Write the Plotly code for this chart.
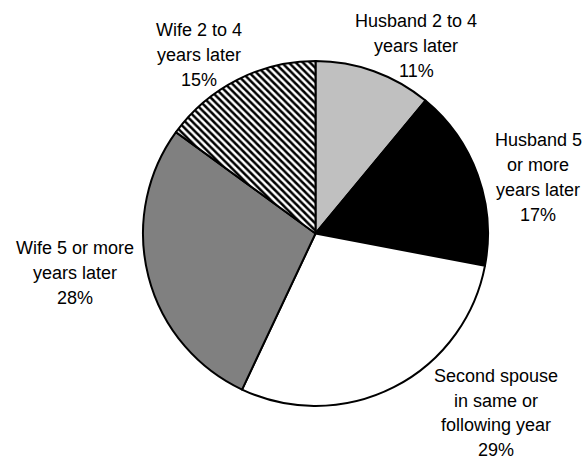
import plotly.graph_objects as go

# ---- data ----
categories = [
    "Husband 2 to 4 years later",
    "Husband 5 or more years later",
    "Second spouse in same or following year",
    "Wife 5 or more years later",
    "Wife 2 to 4 years later",
]
shares = [11, 17, 29, 28, 15]
label_lines = [
    ["Husband 2 to 4", "years later"],
    ["Husband 5", "or more", "years later"],
    ["Second spouse", "in same or", "following year"],
    ["Wife 5 or more", "years later"],
    ["Wife 2 to 4", "years later"],
]

# ---- styles / layout ----
W, H = 586, 459
fill_colors = ["#c0c0c0", "#000000", "#ffffff", "#808080", "#ffffff"]
pattern_shapes = ["", "", "", "", "\\"]
# first-line centre of each label in pixels, line step in pixels
label_pos = [(416, 21), (538, 140), (496, 376), (75, 248), (199, 30)]
line_steps = [25, 25, 24.5, 25, 25]
FONT = "Liberation Sans, Arial, sans-serif"

cx, cy, r = 315.5, 233.5, 172.5

fig = go.Figure(
    go.Pie(
        labels=categories,
        values=shares,
        sort=False,
        direction="clockwise",
        rotation=0,
        textinfo="none",
        hoverinfo="label+percent",
        marker=dict(
            colors=fill_colors,
            line=dict(color="black", width=2),
            pattern=dict(
                shape=pattern_shapes,
                fgcolor="black",
                bgcolor="white",
                size=5,
                solidity=0.5,
                fillmode="replace",
            ),
        ),
        domain=dict(
            x=[(cx - r) / W, (cx + r) / W],
            y=[1 - (cy + r) / H, 1 - (cy - r) / H],
        ),
        showlegend=False,
    )
)

annotations = []
for lines, val, (px, py), step in zip(label_lines, shares, label_pos, line_steps):
    all_lines = lines + [f"{val}%"]
    for i, t in enumerate(all_lines):
        annotations.append(
            dict(
                text=t,
                x=px / W,
                y=1 - (py + i * step) / H,
                xref="paper",
                yref="paper",
                xanchor="center",
                yanchor="middle",
                showarrow=False,
                font=dict(family=FONT, size=18, color="black"),
            )
        )

fig.update_layout(
    width=W,
    height=H,
    margin=dict(l=0, r=0, t=0, b=0),
    paper_bgcolor="white",
    plot_bgcolor="white",
    annotations=annotations,
)

fig.write_html("out.html")
